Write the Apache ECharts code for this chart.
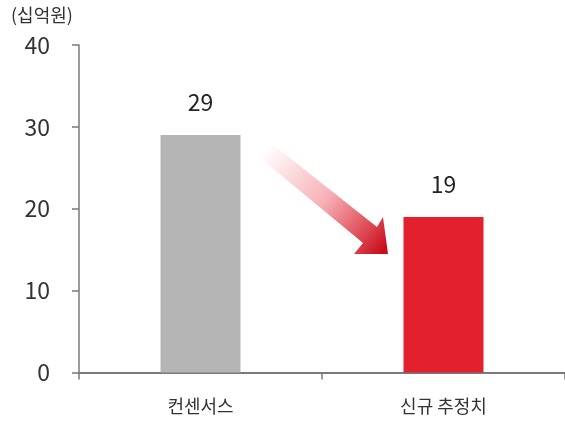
<!DOCTYPE html>
<html>
<head>
<meta charset="utf-8">
<script src="https://cdn.jsdelivr.net/npm/echarts@6/dist/echarts.min.js"></script>
<style>
  html, body { margin: 0; padding: 0; background: #fff; }
  #chart { width: 565px; height: 427px; }
</style>
</head>
<body>
<div id="chart"></div>
<script>
// 영업이익 추정치 비교 (단위: 십억원)
const categories = ['컨센서스', '신규 추정치'];
const values = [29, 19];
const barColors = ['#b5b5b5', '#e3202e'];
const yTicks = { min: 0, max: 40, interval: 10 };
const unitLabel = '(십억원)';

const FONT = '"Noto Sans CJK KR", "Noto Sans", sans-serif';
const chart = echarts.init(document.getElementById('chart'), null, { renderer: 'canvas' });

chart.setOption({
  animation: false,
  backgroundColor: '#ffffff',
  grid: { left: 79, right: -4, top: 45, bottom: 54.5 },
  xAxis: {
    type: 'category',
    data: categories,
    boundaryGap: true,
    axisLine: { show: true, lineStyle: { color: '#7a7a7a', width: 2 } },
    axisTick: { show: true, length: 7, lineStyle: { color: '#7a7a7a', width: 1.5 } },
    axisLabel: { color: '#333', fontSize: 18, fontFamily: FONT, margin: 25 }
  },
  yAxis: {
    type: 'value',
    min: yTicks.min,
    max: yTicks.max,
    interval: yTicks.interval,
    splitLine: { show: false },
    axisLine: { show: true, lineStyle: { color: '#7a7a7a', width: 1.5 } },
    axisTick: { show: true, length: 7, lineStyle: { color: '#7a7a7a', width: 1.5 } },
    axisLabel: { color: '#333', fontSize: 23, fontFamily: FONT, margin: 29 }
  },
  series: [{
    type: 'bar',
    barWidth: 80,
    data: values.map((v, i) => ({ value: v, itemStyle: { color: barColors[i] } })),
    label: {
      show: true,
      position: 'top',
      distance: 21,
      color: '#222',
      fontSize: 23,
      fontFamily: FONT
    }
  }],
  graphic: [
    // unit caption
    {
      type: 'text',
      left: 11,
      top: 6,
      style: { text: unitLabel, fill: '#333', font: '18px ' + FONT }
    },
    // downward arrow between the two bars
    {
      type: 'polygon',
      shape: {
        points: [[271, 143], [377, 227], [383, 217], [388, 254], [354, 254], [363, 243], [259, 157]]
      },
      style: {
        fill: new echarts.graphic.LinearGradient(265, 150, 385, 250, [
          { offset: 0, color: 'rgba(228,30,45,0)' },
          { offset: 0.5, color: 'rgba(228,30,45,0.35)' },
          { offset: 1, color: 'rgba(200,12,25,1)' }
        ], true)
      }
    }
  ]
});
</script>
</body>
</html>
